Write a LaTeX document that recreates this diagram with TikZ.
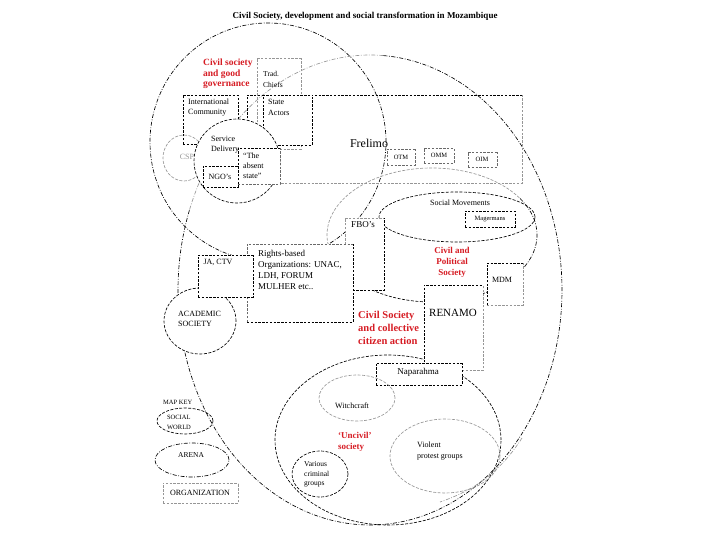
\documentclass[tikz,border=0pt]{standalone}
\usepackage{fontspec}
\setmainfont{Liberation Serif}
\definecolor{redlab}{RGB}{214,28,36}
\definecolor{lgray}{RGB}{150,150,150}
\definecolor{mgray}{RGB}{105,105,105}
\newcommand{\orgbox}[6]{\draw[org,#5] (#1,#4) |- (#3,#2); \draw[org,#6] (#1,#4) -| (#3,#2);}
\newcommand{\wfill}[4]{\fill[white] (#1,#2) rectangle (#3,#4);}
\begin{document}
\begin{tikzpicture}[x=1pt,y=-1pt,
  lw/.style={line width=0.65pt},
  arena/.style={lw, dash pattern=on 4pt off 1.6pt on 0.8pt off 1.6pt},
  sworld/.style={lw, dash pattern=on 3pt off 1.5pt},
  org/.style={lw, dash pattern=on 2.4pt off 1.4pt},
  lab/.style={font=\fontsize{8}{10}\selectfont, inner sep=0pt, align=left},
  smalllab/.style={font=\fontsize{6.5}{8}\selectfont, inner sep=0pt},
  redl/.style={text=redlab, font=\bfseries\fontsize{9.5}{10.5}\selectfont, inner sep=0pt, align=left}]
\useasboundingbox (0,0) rectangle (720,540);

% big arena: civil society and collective citizen action
\draw[arena, lgray] plot[variable=\t, domain=200:274, samples=50, smooth] ({370+192*cos(\t)},{290+235*sin(\t)});
\draw[arena] plot[variable=\t, domain=274:560, samples=160, smooth] ({370+192*cos(\t)},{290+235*sin(\t)});

% civil society and good governance
\draw[arena] (268,142) ellipse [x radius=118pt, y radius=119pt];

% civil and political society
\draw[sworld, lgray] plot[variable=\t, domain=150:327, samples=60, smooth] ({432+105*cos(\t)},{235+67*sin(\t)});
\draw[arena] plot[variable=\t, domain=327:400, samples=30, smooth] ({432+105*cos(\t)},{235+67*sin(\t)});
\draw[sworld] plot[variable=\t, domain=40:150, samples=40, smooth] ({432+105*cos(\t)},{235+67*sin(\t)});

% social movements
\draw[sworld] (457,217) ellipse [x radius=78pt, y radius=25pt];

% uncivil society
\draw[sworld] (388,440) ellipse [x radius=113pt, y radius=85pt];
\draw[arena, lgray] (522,438) .. controls (500,472) and (475,490) .. (440,502);

% top boxes
\orgbox{257}{58}{301}{149}{lgray}{lgray}
\orgbox{183}{95}{238}{144}{black}{black}
\orgbox{247}{95}{522}{183}{black}{lgray}
\wfill{263}{95}{312}{145}
\orgbox{263}{95}{312}{145}{black}{black}
\orgbox{387}{149}{415}{165}{mgray}{mgray}
\orgbox{424}{148}{454}{163}{mgray}{mgray}
\orgbox{468}{152}{497}{167}{mgray}{mgray}

\draw[sworld, lgray] (184,158) ellipse [x radius=21pt, y radius=23pt];
\draw[sworld, fill=white] (237,161) ellipse [x radius=43pt, y radius=42pt];
\wfill{238}{148}{280}{184}
\orgbox{238}{148}{280}{184}{black}{mgray}
\wfill{203}{166}{238}{187}
\orgbox{203}{166}{238}{187}{black}{black}

% middle
\wfill{345}{218}{384}{290}
\orgbox{345}{218}{384}{290}{lgray}{black}
\orgbox{465}{211}{515}{227}{black}{black}
\wfill{247}{244}{353}{322}
\orgbox{247}{244}{353}{322}{mgray}{black}
\draw[sworld, fill=white] (200,321) ellipse [x radius=36pt, y radius=33pt];
\wfill{198}{255}{253}{297}
\orgbox{198}{255}{253}{297}{black}{black}
\wfill{487}{263}{523}{305}
\orgbox{487}{263}{523}{305}{black}{lgray}
\wfill{424}{285}{483}{370}
\orgbox{424}{285}{483}{370}{black}{lgray}
\wfill{376}{363}{462}{385}
\orgbox{376}{363}{462}{385}{black}{black}

% bottom social worlds
\draw[sworld, lgray] (357,398) ellipse [x radius=38pt, y radius=23pt];
\draw[sworld, lgray] (445,456) ellipse [x radius=55pt, y radius=37pt];
\draw[sworld] (320,474) ellipse [x radius=28pt, y radius=23pt];

% map key
\draw[sworld] (185,421) ellipse [x radius=28pt, y radius=13pt];
\draw[arena] (192,460) ellipse [x radius=37pt, y radius=17pt];
\orgbox{163}{483}{238}{503}{lgray}{lgray}

% texts
\node[inner sep=0pt, font=\bfseries\fontsize{9}{10}\selectfont] (title) at (365,16) {Civil Society, development and social transformation in Mozambique};
\node[redl, anchor=west] (cg) at (203,74) {Civil society\\and good\\governance};
\node[lab, font=\fontsize{7.5}{11}\selectfont, anchor=west] (trad) at (263,79) {Trad.\\Chiefs};
\node[lab, anchor=west] (ic) at (188,108) {International\\Community};
\node[lab, font=\fontsize{8}{11}\selectfont, anchor=west] (sa) at (268,107.5) {State\\Actors};
\node[inner sep=0pt, font=\fontsize{12}{14}\selectfont] (fre) at (369,143) {Frelimo};
\node[smalllab] (otm) at (401,157) {OTM};
\node[smalllab] (omm) at (439,155.5) {OMM};
\node[smalllab] (oim) at (482,159.5) {OIM};
\node[lab, text=lgray] (csp) at (187,157) {CSP};
\node[lab, anchor=west] (sd) at (211,145) {Service\\Delivery};
\node[lab, anchor=west] (abs) at (243,166) {“The\\absent\\state”};
\node[lab] (ngo) at (220,176.5) {NGO’s};
\node[lab, font=\fontsize{9}{10}\selectfont] (fbo) at (363,225) {FBO’s};
\node[lab] (sm) at (460,203) {Social Movements};
\node[smalllab] (mag) at (490,219) {Magermans};
\node[redl, align=center, font=\bfseries\fontsize{9}{11}\selectfont] (cps) at (452,262) {Civil and\\Political\\Society};
\node[lab] (mdm) at (502,280) {MDM};
\node[inner sep=0pt, font=\fontsize{11}{13}\selectfont] (ren) at (453,313) {RENAMO};
\node[lab, font=\fontsize{9}{11}\selectfont, anchor=west] (rb) at (258,269.5) {Rights-based\\Organizations: UNAC,\\LDH, FORUM\\MULHER etc..};
\node[lab] (ja) at (218,262) {JA, CTV};
\node[lab, anchor=west] (acad) at (178,319) {ACADEMIC\\SOCIETY};
\node[redl, font=\bfseries\fontsize{10.5}{13}\selectfont, anchor=west] (cc) at (358,328) {Civil Society\\and collective\\citizen action};
\node[lab, font=\fontsize{9}{10}\selectfont] (nap) at (418,372) {Naparahma};
\node[lab] (wit) at (352,406) {Witchcraft};
\node[redl, font=\bfseries\fontsize{9}{10.5}\selectfont, anchor=west] (unc) at (338,442) {‘Uncivil’\\society};
\node[lab, font=\fontsize{8}{11}\selectfont, anchor=west] (vio) at (417,451.5) {Violent\\protest groups};
\node[lab, font=\fontsize{7.5}{9.5}\selectfont, anchor=west] (var) at (304,474.5) {Various\\criminal\\groups};
\node[lab, font=\fontsize{6.5}{8}\selectfont, anchor=west] (mk) at (163,402) {MAP KEY};
\node[lab, font=\fontsize{6.5}{10}\selectfont] (swk) at (179,422) {SOCIAL\\WORLD};
\node[lab, font=\fontsize{7.5}{9}\selectfont] (ark) at (191,455) {ARENA};
\node[lab] (ork) at (200,493) {ORGANIZATION};
\end{tikzpicture}
\end{document}
